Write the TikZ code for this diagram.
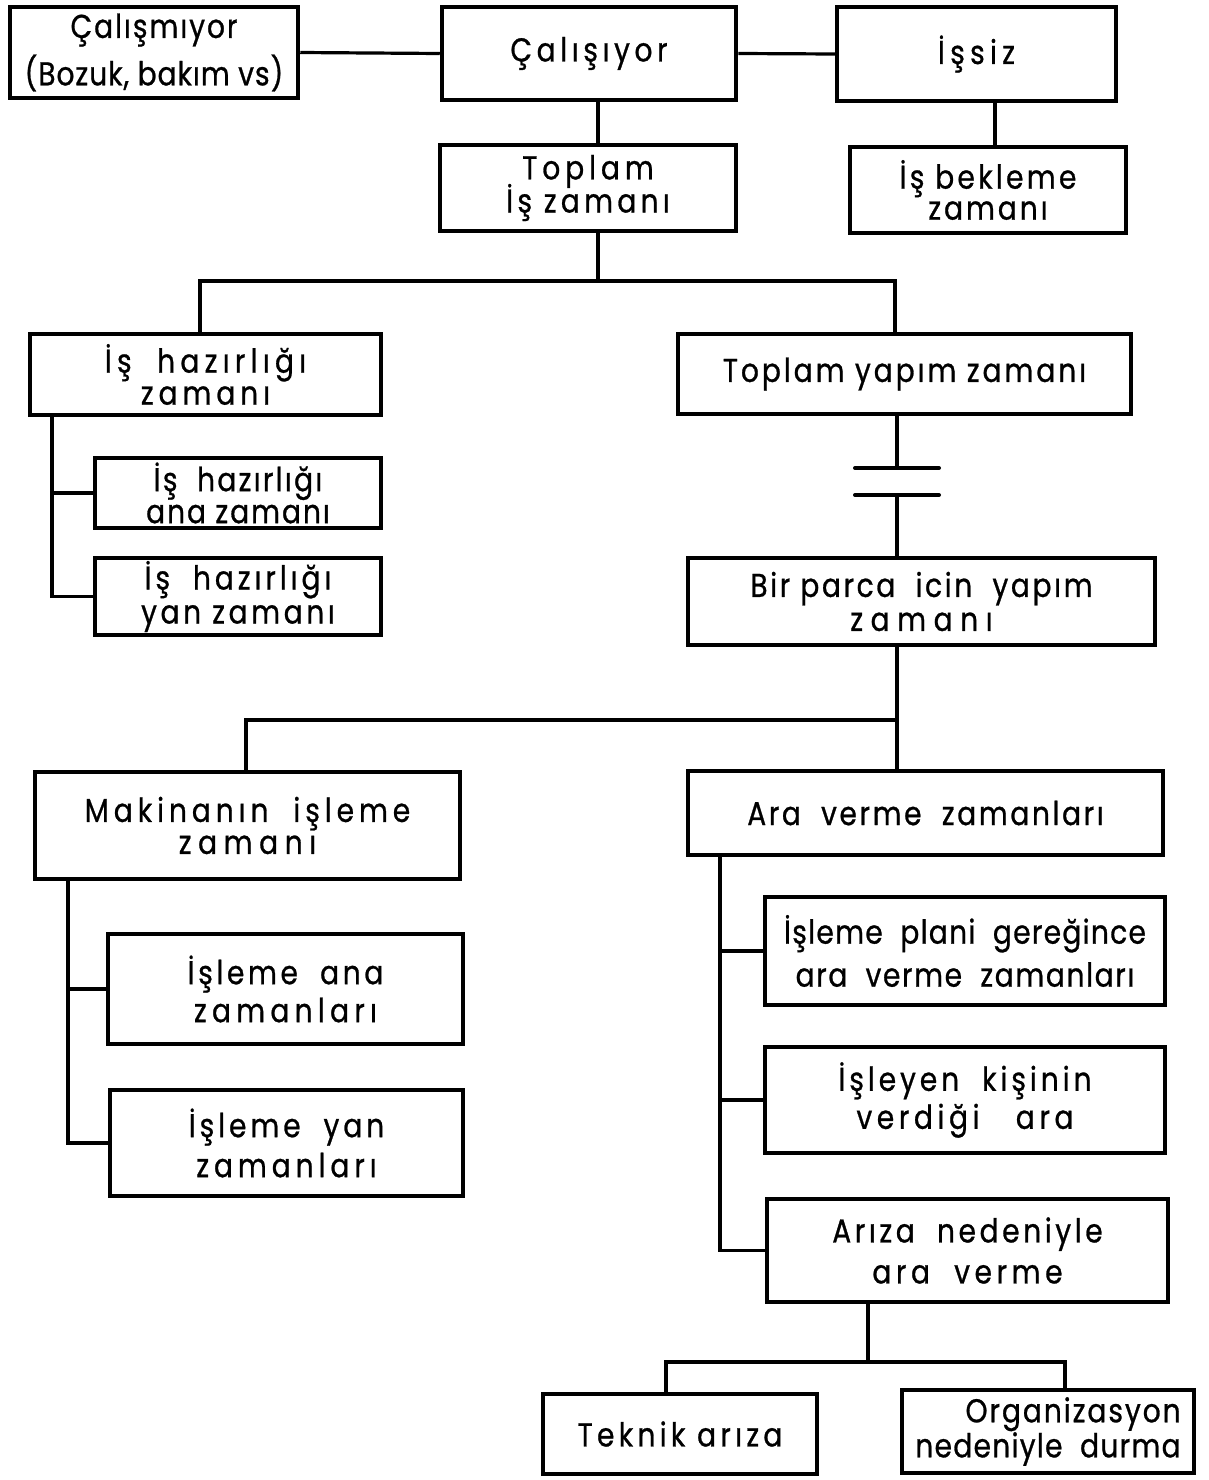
\documentclass[tikz,border=0pt]{standalone}
\usepackage{fontspec}
\setmainfont{Poppins}[FakeStretch=0.85, FakeBold=0.8, LetterSpace=6]
\usetikzlibrary{calc}
% one line of text with its own letter spacing
\newcommand\ls[2]{{\addfontfeature{LetterSpace=#1}#2}}
\begin{document}
\begin{tikzpicture}[x=1pt,y=-1pt,
  box/.style={draw, line width=4.5pt, inner sep=0pt, align=center,
    font=\fontsize{33}{34}\selectfont},
  conn/.style={line width=3.2pt},
  plate/.style={line width=4pt, line cap=round}]
\useasboundingbox (0,0) rectangle (1208,1480);

% boxes
\node[box, minimum width=288, minimum height=91] (c1) at (154,52.5)
  {\ls{6}{Çalışmıyor}\\[7pt]\ls{3}{(Bozuk, bakım vs)}};
\node[box, minimum width=294, minimum height=93] (c2) at (589,53.5) {\ls{14}{Çalışıyor}};
\node[box, minimum width=279, minimum height=94] (c3) at (976.5,54) {\ls{16}{İşsiz}};
\node[box, minimum width=296, minimum height=86] (c4) at (588,188)
  {\ls{15}{Toplam}\\[-5pt]\ls{13}{İş zamanı}};
\node[box, minimum width=276, minimum height=86] (c5) at (988,190)
  {\ls{10}{İş bekleme}\\[-3pt]\ls{9}{zamanı}};
\node[box, minimum width=351, minimum height=81] (c6) at (205.5,374.5)
  {\ls{16}{İş\ \ hazırlığı}\\[-2pt]\ls{15}{zamanı}};
\node[box, minimum width=453, minimum height=80] (c7) at (904.5,374)
  {\ls{9}{Toplam yapım zamanı}};
\node[box, minimum width=286, minimum height=70] (c8) at (238,493)
  {\ls{7}{İş\ \ hazırlığı}\\[-2pt]\ls{6}{ana zamanı}};
\node[box, minimum width=286, minimum height=77] (c9) at (238,596.5)
  {\ls{12}{İş\ \ hazırlığı}\\[0pt]\ls{11}{yan zamanı}};
\node[box, minimum width=467, minimum height=87] (c10) at (921.5,601.5)
  {\ls{8}{Bir parca\ \ icin\ \ yapım}\\[0pt]\ls{23}{zamanı}};
\node[box, minimum width=425, minimum height=107] (c11) at (247.5,825.5)
  {\ls{15}{Makinanın\ \ işleme}\\[-2pt]\ls{20}{zamanı}};
\node[box, minimum width=475, minimum height=84] (c12) at (925.5,813)
  {\ls{8}{Ara\ \ verme\ \ zamanları}};
\node[box, minimum width=355, minimum height=110] (c13) at (285.5,989)
  {\ls{11}{İşleme\ \ ana}\\[4pt]\ls{16}{zamanları}};
\node[box, minimum width=353, minimum height=106] (c14) at (286.5,1143)
  {\ls{12}{İşleme\ \ yan}\\[6pt]\ls{15}{zamanları}};
\node[box, minimum width=400, minimum height=108] (c15) at (965,951)
  {\ls{4}{İşleme\ \ plani\ \ gereğince}\\[9pt]\ls{5}{ara\ \ verme\ \ zamanları}};
\node[box, minimum width=400, minimum height=106] (c16) at (965,1100)
  {\ls{12}{İşleyen\ \ kişinin}\\[4pt]\ls{14}{verdiği\ \ \ ara}};
\node[box, minimum width=401, minimum height=103] (c17) at (967.5,1250.5)
  {\ls{11}{Arıza\ \ nedeniyle}\\[7pt]\ls{14}{ara\ \ verme}};
\node[box, minimum width=274, minimum height=80] (c18) at (680,1434)
  {\ls{13}{Teknik arıza}};
\node[box, minimum width=292, minimum height=83, align=right, inner xsep=6pt] (c19) at (1048,1431.5)
  {\ls{6}{Organizasyon}\\[0pt]\ls{4}{nedeniyle\ \ durma}};

% junction points
\coordinate (a1) at (598,0);
\coordinate (a2) at (995,0);
\coordinate (bus1) at (598,281);
\coordinate (b1) at (200,281);
\coordinate (b2) at (895,281);
\coordinate (s6) at (52,0);
\coordinate (p1) at (897,468);
\coordinate (p2) at (897,495);
\coordinate (d1) at (897,720);
\coordinate (d2) at (246,720);
\coordinate (s11) at (68,0);
\coordinate (s12) at (720,0);
\coordinate (e1) at (868,1362);
\coordinate (e2) at (666,1362);
\coordinate (e3) at (1065,1362);

% top row
\draw[conn] (c1.east) -- (c2.west);
\draw[conn] (c2.east) -- (c3.west);
\draw[conn] (c2.south -| a1) -- (c4.north -| a1);
\draw[conn] (c3.south -| a2) -- (c5.north -| a2);

% split of the total working time
\draw[conn] (c4.south -| bus1) -- (bus1);
\draw[conn] (c6.north -| b1) -- (b1) -- (b2) -- (c7.north -| b2);

% preparation branch
\draw[conn] (c6.south -| s6) -- (s6 |- c9.west) -- (c9.west);
\draw[conn] (s6 |- c8.west) -- (c8.west);

% break symbol between total and per-piece time
\draw[conn] (c7.south -| p1) -- (p1);
\draw[plate] ($(p1)+(-42,0)$) -- ($(p1)+(42,0)$);
\draw[plate] ($(p2)+(-42,0)$) -- ($(p2)+(42,0)$);
\draw[conn] (p2) -- (c10.north -| p2);

% per-piece time split
\draw[conn] (c10.south -| d1) -- (c12.north -| d1);
\draw[conn] (d1) -- (d2) -- (c11.north -| d2);

% machining branch
\draw[conn] (c11.south -| s11) -- (s11 |- c14.west) -- (c14.west);
\draw[conn] (s11 |- c13.west) -- (c13.west);

% pause branch
\draw[conn] (c12.south -| s12) -- (s12 |- c17.west) -- (c17.west);
\draw[conn] (s12 |- c15.west) -- (c15.west);
\draw[conn] (s12 |- c16.west) -- (c16.west);

% breakdown causes
\draw[conn] (c17.south -| e1) -- (e1);
\draw[conn] (c18.north -| e2) -- (e2) -- (e3) -- (c19.north -| e3);
\end{tikzpicture}
\end{document}
